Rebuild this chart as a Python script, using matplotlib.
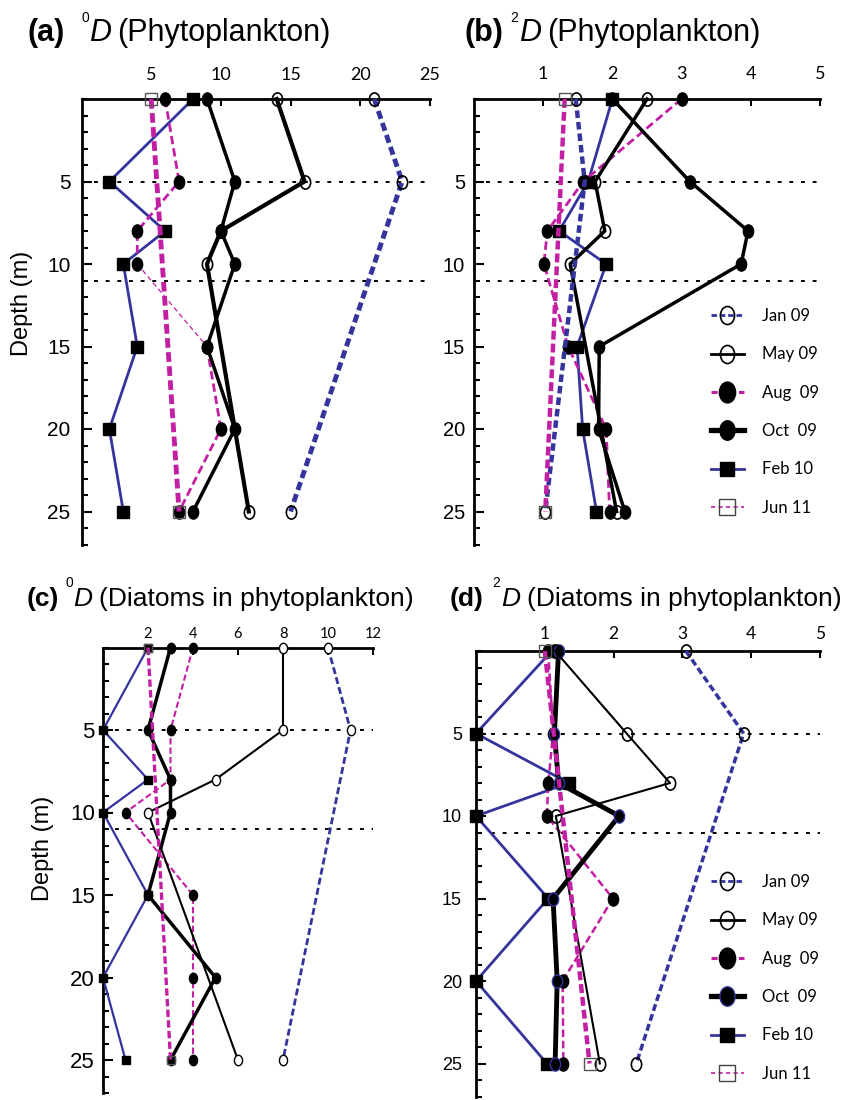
import numpy as np
import matplotlib
matplotlib.use("Agg")
import matplotlib.pyplot as plt
from matplotlib.path import Path
from matplotlib.lines import Line2D
from matplotlib.ticker import MultipleLocator, FixedLocator
from matplotlib import font_manager as fm

nan = np.nan
depths = [0, 5, 8, 10, 15, 20, 25]
labels = ["Jan 09", "May 09", "Aug  09", "Oct  09", "Feb 10", "Jun 11"]

# (a) 0D phytoplankton
a_jan09 = [21, 23, nan, nan, nan, nan, 15]
a_may09 = [14, 16, 10, 9, nan, nan, 12]
a_aug09 = [6, 7, 4, 4, 9, 10, 7]
a_oct09 = [9, 11, 10, 11, 9, 11, 8]
a_feb10 = [8, 2, 6, 3, 4, 2, 3]
a_jun11 = [5, nan, nan, nan, nan, nan, 7]
a_xticks = [5, 10, 15, 20, 25]

# (b) 2D phytoplankton
b_jan09 = [1.47, 1.6, nan, nan, nan, nan, 1.03]
b_may09 = [2.5, 1.75, 1.89, 1.39, nan, nan, 2.06]
b_aug09 = [3.0, 1.58, 1.06, 1.01, 1.36, 1.91, 1.96]
b_oct09 = [2.0, 3.12, 3.96, 3.86, 1.81, 1.80, 2.18]
b_feb10 = [2.0, 1.65, 1.23, 1.91, 1.49, 1.57, 1.77]
b_jun11 = [1.31, nan, nan, nan, nan, nan, 1.03]
b_xticks = [1, 2, 3, 4, 5]

# (c) 0D diatoms
c_jan09 = [10, 11, nan, nan, nan, nan, 8]
c_may09 = [8, 8, 5, 2, nan, nan, 6]
c_aug09 = [4, 3, 3, 1, 4, 4, 4]
c_oct09 = [3, 2, 3, 3, 2, 5, 3]
c_feb10 = [2, 0, 2, 0, 2, 0, 1]
c_jun11 = [2, nan, nan, nan, nan, nan, 3]
c_xticks = [2, 4, 6, 8, 10, 12]

# (d) 2D diatoms
d_jan09 = [3.05, 3.89, nan, nan, nan, nan, 2.33]
d_may09 = [1.15, 2.19, 2.82, 1.16, nan, nan, 1.80]
d_aug09 = [1.05, 1.12, 1.05, 1.03, 1.99, 1.26, 1.27]
d_oct09 = [1.2, 1.14, 1.2, 2.08, 1.12, 1.18, 1.15]
d_feb10 = [1.1, 0.0, 1.35, 0.0, 1.05, 0.0, 1.03]
d_jun11 = [1.0, nan, nan, nan, nan, nan, 1.65]
d_xticks = [1, 2, 3, 4, 5]

depth_ticks = [5, 10, 15, 20, 25]
ref_lines = [5, 11]

BLUE = "#34349c"
MAG = "#c21fa2"

names = {f.name for f in fm.fontManager.ttflist}
NARROW = "Liberation Sans Narrow" in names
TFONT = ["Liberation Sans Narrow", "Liberation Sans"] if NARROW else ["Liberation Sans"]
TOP_SIZE = 25 if NARROW else 22
BOT_SIZE = 24 if NARROW else 19
LFONT = ["Lato", "DejaVu Sans"]
AFONT = ["Liberation Sans", "DejaVu Sans"]

circ = Path.unit_circle()
ELL = Path(circ.vertices * np.array([0.78, 1.0]), circ.codes)

W, H = 842, 1100
fig = plt.figure(figsize=(W / 100, H / 100), dpi=100)


def ax_at(left, top, right, bottom):
    return fig.add_axes([left / W, 1 - bottom / H, (right - left) / W, (bottom - top) / H])


def clean(xs):
    x = np.array(xs, dtype=float)
    d = np.array(depths, dtype=float)
    m = ~np.isnan(x)
    return x[m], d[m]


def series(ax, xs, idx=None, **kw):
    x, d = clean(xs)
    if idx is not None:
        x, d = x[idx[0]:idx[1]], d[idx[0]:idx[1]]
    ax.plot(x, d, clip_on=False, **kw)


def setup(ax, xmax, xticks, xlab_size, xpad, ylab_size, ypad, ytick_font):
    ax.set_xlim(0, xmax)
    ax.set_ylim(27, 0)
    for s in ["right", "bottom"]:
        ax.spines[s].set_visible(False)
    for s in ["left", "top"]:
        ax.spines[s].set_linewidth(2)
    ax.xaxis.tick_top()
    ax.xaxis.set_major_locator(FixedLocator(xticks))
    ax.set_xticklabels([str(t) for t in xticks], fontfamily=LFONT, fontsize=xlab_size)
    ax.tick_params(axis="x", direction="in", length=5, width=1.5, pad=xpad)
    ax.yaxis.set_major_locator(FixedLocator(depth_ticks))
    ax.yaxis.set_minor_locator(MultipleLocator(1))
    ax.set_yticklabels([str(t) for t in depth_ticks], fontfamily=ytick_font, fontsize=ylab_size)
    ax.tick_params(axis="y", which="major", direction="in", length=7, width=1.5, pad=ypad)
    ax.tick_params(axis="y", which="minor", direction="in", length=4, width=1.5)
    ax.patch.set_visible(False)


def reflines(ax, xmin):
    for r in ref_lines:
        ax.axhline(r, xmin=xmin, xmax=1, color="black", lw=1.4, dashes=(2, 4), zorder=1)


# ---------------- (a) ----------------
axa = ax_at(81.5, 99, 430, 544.5)
setup(axa, 25, a_xticks, 13, 11.5, 15, 8, AFONT)
reflines(axa, 0.035)
ms = 9.5
series(axa, a_feb10, color=BLUE, lw=2, marker="s", ms=8, mfc="black", mec="black", zorder=3)
series(axa, a_aug09, idx=(0, 4), color=MAG, lw=2, dashes=(3, 1.5), marker=ELL, ms=ms, mfc="black", mec="black", zorder=3)
series(axa, a_aug09, idx=(3, 5), color=MAG, lw=0.9, dashes=(4, 2.5), zorder=2)
series(axa, a_aug09, idx=(4, 7), color=MAG, lw=2, dashes=(3, 1.5), marker=ELL, ms=ms, mfc="black", mec="black", zorder=3)
series(axa, a_jun11, color=MAG, lw=3.5, dashes=(2, 0.9), marker="s", ms=8, mfc="none", mec="#555555", mew=1, zorder=4)
series(axa, a_oct09, color="black", lw=2.5, marker=ELL, ms=ms, mfc="black", mec="black", zorder=3)
series(axa, a_may09, color="black", lw=3, marker=ELL, ms=ms, mfc="none", mec="black", mew=1.2, zorder=3)
series(axa, a_jan09, color=BLUE, lw=3.5, dashes=(1.7, 0.9), marker=ELL, ms=ms, mfc="none", mec="black", mew=1.2, zorder=3)

# ---------------- (b) ----------------
axb = ax_at(474, 99, 820, 544.5)
setup(axb, 5, b_xticks, 13, 12, 14.5, 6.5, AFONT)
reflines(axb, 0.035)
series(axb, b_feb10, color=BLUE, lw=2, marker="s", ms=8, mfc="black", mec="black", zorder=3)
series(axb, b_aug09, color=MAG, lw=2, dashes=(3, 1.5), marker=ELL, ms=ms, mfc="black", mec="black", zorder=3)
series(axb, b_jun11, color=MAG, lw=3.2, dashes=(2, 0.9), marker="s", ms=8, mfc="none", mec="#555555", mew=1, zorder=4)
series(axb, b_oct09, color="black", lw=2.5, marker=ELL, ms=ms, mfc="black", mec="black", zorder=3)
series(axb, b_may09, color="black", lw=2.5, marker=ELL, ms=ms, mfc="none", mec="black", mew=1.2, zorder=3)
series(axb, b_jan09, color=BLUE, lw=3.2, dashes=(1.7, 0.9), marker=ELL, ms=ms, mfc="none", mec="black", mew=1.2, zorder=3)

# ---------------- (c) ----------------
axc = ax_at(103, 647.5, 373, 1093)
setup(axc, 12, c_xticks, 10.5, 5, 16, 6, AFONT)
reflines(axc, 0.045)
msc = 7.5
series(axc, c_feb10, color=BLUE, lw=1.6, marker="s", ms=6, mfc="black", mec="black", zorder=3)
series(axc, c_aug09, color=MAG, lw=1.5, dashes=(3, 1.5), marker=ELL, ms=msc, mfc="black", mec="black", zorder=3)
series(axc, c_jun11, color=MAG, lw=2.4, dashes=(2.2, 1), marker="s", ms=6, mfc="none", mec="#555555", mew=1, zorder=4)
series(axc, c_oct09, color="black", lw=2.5, marker=ELL, ms=msc, mfc="black", mec="black", zorder=3)
series(axc, c_may09, color="black", lw=1.5, marker=ELL, ms=msc, mfc="white", mec="black", mew=1, zorder=3)
series(axc, c_jan09, color=BLUE, lw=2, dashes=(2.5, 1.2), marker=ELL, ms=msc, mfc="white", mec="black", mew=1, zorder=3)

# ---------------- (d) ----------------
axd = ax_at(476, 651, 820, 1096.5)
setup(axd, 5, d_xticks, 12.5, 6.5, 13, 10, AFONT)
reflines(axd, 0.045)
series(axd, d_feb10, color=BLUE, lw=2, marker="s", ms=8, mfc="black", mec="black", zorder=3)
series(axd, d_aug09, color=MAG, lw=1.8, dashes=(3, 1.5), marker=ELL, ms=ms, mfc="black", mec="black", zorder=3)
series(axd, d_jun11, color=MAG, lw=3.2, dashes=(2, 0.9), marker="s", ms=8, mfc="none", mec="#555555", mew=1, zorder=4)
series(axd, d_oct09, color="black", lw=3.5, marker=ELL, ms=ms, mfc="black", mec=BLUE, mew=1, zorder=3)
series(axd, d_may09, color="black", lw=1.5, marker=ELL, ms=ms, mfc="none", mec="black", mew=1.2, zorder=3)
series(axd, d_jan09, color=BLUE, lw=2.5, dashes=(2, 1), marker=ELL, ms=ms, mfc="none", mec="black", mew=1.2, zorder=3)

# ---------------- legends ----------------
def legend_handles(oct_edge):
    return [
        Line2D([], [], color=BLUE, lw=2, dashes=(2, 1), marker=ELL, ms=13, mfc="none", mec="black", mew=1.2),
        Line2D([], [], color="black", lw=2, marker=ELL, ms=13, mfc="none", mec="black", mew=1.2),
        Line2D([], [], color=MAG, lw=2.2, dashes=(2, 1), marker=ELL, ms=15, mfc="black", mec="black"),
        Line2D([], [], color="black", lw=3.8, marker=ELL, ms=14, mfc="black", mec=oct_edge, mew=1),
        Line2D([], [], color=BLUE, lw=2, marker="s", ms=10, mfc="black", mec="black"),
        Line2D([], [], color=MAG, lw=1.2, dashes=(2.5, 2), marker="s", ms=11, mfc="none", mec="#444444", mew=1),
    ]


for ax, y0, oe in [(axb, 308, "black"), (axd, 874, BLUE)]:
    leg = ax.legend(legend_handles(oe), labels, loc="upper left",
                    bbox_to_anchor=(711 / W, 1 - y0 / H), bbox_transform=fig.transFigure,
                    frameon=False, prop={"family": LFONT, "size": 12},
                    handlelength=1.95, handletextpad=1.1, labelspacing=1.34, borderpad=0, borderaxespad=0)

# ---------------- axis labels ----------------
fig.text(22 / W, 1 - 303 / H, "Depth (m)", rotation=90, ha="center", va="center", fontfamily=AFONT, fontsize=17)
fig.text(43 / W, 1 - 848 / H, "Depth (m)", rotation=90, ha="center", va="center", fontfamily=AFONT, fontsize=17)

# ---------------- titles ----------------
def title(x_lab, lab, x_sup, sup, x_d, x_rest, rest, base, size):
    fig.text(x_lab / W, 1 - base / H, lab, fontfamily=TFONT, fontsize=size, fontweight="bold", va="baseline")
    fig.text(x_sup / W, 1 - (base - 19) / H, sup, fontfamily=TFONT, fontsize=10, va="baseline")
    fig.text(x_d / W, 1 - base / H, "D", fontfamily=TFONT, fontsize=size, fontstyle="italic", va="baseline")
    fig.text(x_rest / W, 1 - base / H, rest, fontfamily=TFONT, fontsize=size, va="baseline")


title(27, "(a)", 81, "0", 89, 117, "(Phytoplankton)", 41, TOP_SIZE)
title(465, "(b)", 510, "2", 519, 547, "(Phytoplankton)", 41, TOP_SIZE)
title(27, "(c)", 66, "0", 73, 99, "(Diatoms in phytoplankton)", 606, BOT_SIZE)
title(450, "(d)", 492, "2", 501, 527, "(Diatoms in phytoplankton)", 606, BOT_SIZE)

fig.savefig("out.png", dpi=100)
